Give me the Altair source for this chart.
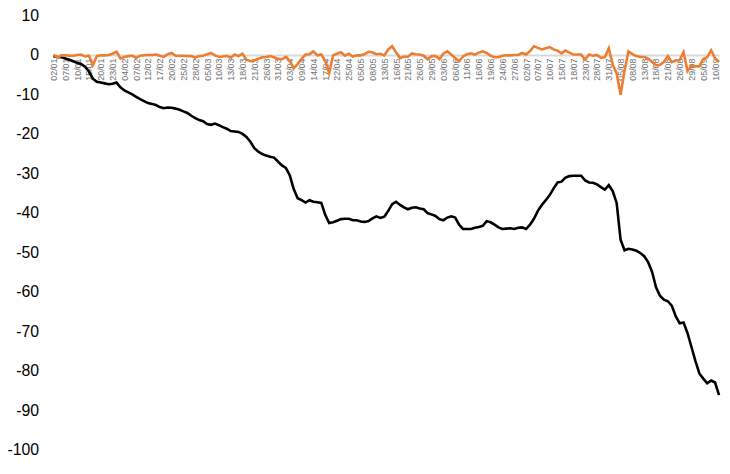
import altair as alt
import pandas as pd

date_labels = ["02/01", "07/01", "10/01", "15/01", "20/01", "23/01", "04/02", "07/02", "12/02", "17/02",
               "20/02", "25/02", "28/02", "05/03", "10/03", "13/03", "18/03", "21/03", "26/03", "31/03",
               "03/04", "09/04", "14/04", "17/04", "22/04", "25/04", "05/05", "08/05", "13/05", "16/05",
               "21/05", "26/05", "29/05", "03/06", "06/06", "11/06", "16/06", "19/06", "24/06", "27/06",
               "02/07", "07/07", "10/07", "15/07", "18/07", "23/07", "28/07", "31/07", "05/08", "08/08",
               "13/08", "18/08", "21/08", "26/08", "29/08", "05/09", "10/09"]

black_values = [
    -0.3, -0.5, -0.6, -0.9, -1.2, -1.6, -2.0, -2.3, -3.0, -4.2,
    -6.0, -6.8, -7.0, -7.2, -7.4, -7.3, -7.0, -8.2, -9.0, -9.5,
    -10.0, -10.6, -11.2, -11.7, -12.2, -12.4, -12.7, -13.2, -13.5, -13.3,
    -13.4, -13.6, -13.9, -14.3, -14.7, -15.4, -16.0, -16.5, -16.8, -17.5,
    -17.7, -17.4, -17.8, -18.3, -18.7, -19.3, -19.4, -19.5, -20.0, -20.8,
    -22.0, -23.6, -24.5, -25.1, -25.5, -25.8, -26.0, -27.0, -28.0, -28.6,
    -30.5, -34.0, -36.3, -36.8, -37.4, -36.8, -37.2, -37.3, -37.5, -40.5,
    -42.6, -42.4, -42.0, -41.6, -41.5, -41.5, -41.9, -41.9, -42.2, -42.3,
    -42.1, -41.4, -40.9, -41.3, -41.0, -39.5, -37.8, -37.2, -38.0, -38.6,
    -39.1, -38.7, -38.6, -38.9, -39.1, -40.1, -40.4, -40.8, -41.6, -41.9,
    -41.2, -40.9, -41.2, -43.0, -44.1, -44.1, -44.1, -43.8, -43.6, -43.3,
    -42.1, -42.4, -43.0, -43.7, -44.1, -44.0, -43.9, -44.1, -43.8, -43.7,
    -44.1, -43.0, -41.5, -39.5, -38.0, -36.8, -35.5, -33.8, -32.3, -32.1,
    -31.1, -30.7, -30.6, -30.6, -30.6, -31.8, -32.3, -32.4, -32.8, -33.5,
    -34.1, -33.0, -34.5, -37.5, -46.8, -49.5, -49.1, -49.3, -49.6, -50.2,
    -51.0, -52.5, -55.0, -58.9, -61.0, -62.0, -62.4, -63.5, -66.2, -68.0,
    -67.8, -70.5, -74.0, -77.5, -80.7, -82.0, -83.2, -82.5, -83.0, -86.2,
]

orange_values = [
    0.1, -0.7, -0.1, -0.1, -0.2, -0.2, 0.0, 0.1, -0.4, -0.2,
    -2.6, -0.3, -0.1, -0.1, 0.0, 0.3, 0.8, -0.9, -0.5, -0.3,
    -0.2, -0.7, -0.2, -0.1, 0.0, 0.0, 0.1, -0.2, -0.5, 0.2,
    0.5, -0.2, -0.2, -0.2, -0.3, -0.3, -0.7, -0.3, -0.2, 0.2,
    0.5, -0.1, -0.5, -0.4, -0.2, -0.7, 0.1, -0.3, 0.3, -1.2,
    -1.6, -1.4, -1.0, -0.6, -0.5, -0.3, -0.6, -1.0, -1.1, -0.5,
    -1.5, -3.4, -2.3, -1.0, 0.1, 0.2, 0.9, -0.1, 0.1, -1.5,
    -4.6, -0.1, 0.3, 0.7, -0.2, 0.3, -0.4, -0.1, -0.1, 0.2,
    0.8, 0.6, 0.2, 0.3, -0.1, 1.4, 2.2, 0.6, -0.8, -0.4,
    -0.5, 0.4, 0.2, 0.1, -0.2, -1.1, -0.3, -0.3, -1.0, 0.3,
    0.9, 0.1, -0.8, -1.6, -0.4, 0.2, 0.4, 0.1, 0.6, 0.9,
    0.5, -0.2, -0.6, -0.6, -0.2, -0.1, -0.1, 0.0, 0.0, 0.5,
    0.1, 1.0, 2.2, 1.8, 1.4, 1.7, 2.0, 1.4, 1.1, 0.4,
    1.1, 0.6, 0.1, 0.1, 0.1, -1.2, 0.1, -0.2, 0.0, -0.7,
    -0.6, 1.7, -2.4, -4.7, -10.1, -4.0, 0.9, 0.2, -0.3, -0.5,
    -0.5, -0.9, -1.8, -2.6, -2.5, -1.8, -0.3, -1.8, -1.4, -1.3,
    0.7, -4.1, -2.7, -2.9, -2.9, -1.0, -0.6, 1.2, -0.9, -1.8,
]

y_ticks = [10, 0, -10, -20, -30, -40, -50, -60, -70, -80, -90, -100]

n = len(black_values)
df = pd.DataFrame({"idx": list(range(n)), "black": black_values, "orange": orange_values})

label_array = "[" + ",".join("'" + s + "'" for s in date_labels) + "]"
label_expr = label_array + "[floor(datum.value / 3)]"

PLOT_W = 673
PLOT_H = 439
zero_offset = -round(PLOT_H * 100 / 110)

x_scale = alt.Scale(domain=[0, n - 1], nice=False, zero=False)
y_scale = alt.Scale(domain=[-100, 10], nice=False, zero=False)

x_axis = alt.Axis(
    values=list(range(0, 3 * len(date_labels), 3)),
    labelExpr=label_expr,
    labelAngle=270,
    labelFontSize=9,
    labelFont="Liberation Sans",
    labelColor="#707070",
    labelPadding=3,
    ticks=False,
    grid=False,
    domain=True,
    domainColor="#d9d9d9",
    domainWidth=2,
    offset=zero_offset,
    title=None,
    labelOverlap=False,
    labelBound=False,
    labelFlush=False,
)

y_axis = alt.Axis(
    values=y_ticks,
    labelExpr="'' + datum.value",
    labelFontSize=16,
    labelFont="Liberation Sans",
    labelColor="#000000",
    labelPadding=15,
    labelOverlap=False,
    labelBound=False,
    labelFlush=False,
    ticks=False,
    domain=False,
    grid=False,
    title=None,
)

black_line = alt.Chart(df).mark_line(color="#000000", strokeWidth=2.6).encode(
    x=alt.X("idx:Q", scale=x_scale, axis=x_axis),
    y=alt.Y("black:Q", scale=y_scale, axis=y_axis),
)

orange_line = alt.Chart(df).mark_line(color="#ED7D31", strokeWidth=2.6).encode(
    x=alt.X("idx:Q", scale=x_scale, axis=x_axis),
    y=alt.Y("orange:Q", scale=y_scale, axis=y_axis),
)

chart = (
    alt.layer(black_line, orange_line)
    .properties(
        width=PLOT_W,
        height=PLOT_H,
        autosize=alt.AutoSizeParams(type="none"),
        padding={"left": 46, "top": 5, "right": 3, "bottom": 14},
        background="white",
    )
    .configure_view(stroke=None)
)

chart.save("out.html", embed_options={"renderer": "svg", "actions": False})
